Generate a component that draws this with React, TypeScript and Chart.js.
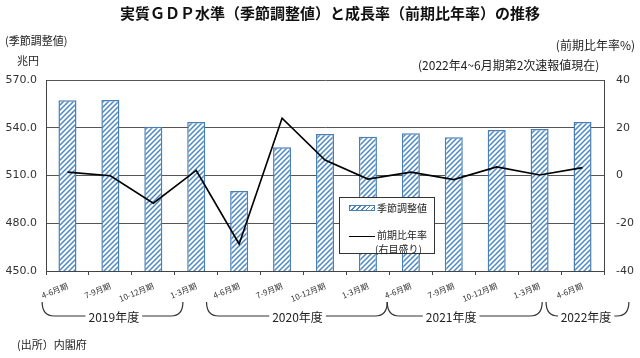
import React, { useEffect, useRef } from 'react';
import { Chart, registerables } from 'chart.js';

Chart.register(...registerables);

// ---- data ----
const quarters = [
  '4-6月期', '7-9月期', '10-12月期', '1-3月期',
  '4-6月期', '7-9月期', '10-12月期', '1-3月期',
  '4-6月期', '7-9月期', '10-12月期', '1-3月期',
  '4-6月期',
];
const gdpLevel = [557.3, 557.4, 540.7, 543.6, 500.3, 527.7, 536.1, 534.4, 536.5, 534.0, 538.6, 539.2, 543.6];
const growthRate = [1.4, -0.1, -11.6, 2.1, -28.7, 24.0, 6.5, -1.5, 1.4, -1.7, 3.6, 0.2, 3.3];

const leftMin = 450;
const leftMax = 570;
const leftStep = 30;
const rightMin = -40;
const rightMax = 40;
const rightStep = 20;

const fiscalYears = ['2019年度', '2020年度', '2021年度', '2022年度'];
const fyStart = [-0.59, 3.24, 7.45, 11.15];
const fyEnd = [2.69, 7.45, 11.06, 13.08];
const fyLabelAt = [1.08, 5.36, 8.94, 12.08];

const JP = '"Noto Sans CJK JP", "Noto Sans", sans-serif';
const NUM = '"DejaVu Sans", Verdana, sans-serif';
const BAR_BORDER = '#4a7fb3';
const HATCH = '#4a88c6';

function makeHatch(ctx: CanvasRenderingContext2D): CanvasPattern | string {
  const c = document.createElement('canvas');
  c.width = 5;
  c.height = 5;
  const g = c.getContext('2d');
  if (!g) return '#cfe0f0';
  g.fillStyle = '#ffffff';
  g.fillRect(0, 0, 5, 5);
  g.strokeStyle = HATCH;
  g.lineWidth = 1.5;
  g.beginPath();
  g.moveTo(-1, 6); g.lineTo(6, -1);
  g.moveTo(-1, 1); g.lineTo(1, -1);
  g.moveTo(4, 6); g.lineTo(6, 4);
  g.stroke();
  return ctx.createPattern(c, 'repeat') || '#cfe0f0';
}

const bracketPlugin = {
  id: 'fyBrackets',
  afterDraw(chart: any) {
    const ctx: CanvasRenderingContext2D = chart.ctx;
    const xs = chart.scales.x;
    const top = 302;
    const bottom = 316;
    const r = 12;
    ctx.save();
    ctx.strokeStyle = '#333';
    ctx.lineWidth = 1.2;
    ctx.fillStyle = '#222';
    ctx.font = `12px ${JP}`;
    ctx.textAlign = 'center';
    ctx.textBaseline = 'middle';
    fiscalYears.forEach((label, i) => {
      const x0 = xs.getPixelForValue(fyStart[i]);
      const x1 = xs.getPixelForValue(fyEnd[i]);
      const xc = xs.getPixelForValue(fyLabelAt[i]);
      const w = ctx.measureText(label).width;
      const tl = xc - w / 2 - 3;
      const tr = xc + w / 2 + 3;
      ctx.beginPath();
      ctx.moveTo(x0, top);
      ctx.quadraticCurveTo(x0, bottom, x0 + r, bottom);
      if (tl > x0 + r) ctx.lineTo(tl, bottom);
      ctx.stroke();
      ctx.beginPath();
      ctx.moveTo(Math.min(tr, x1 - r), bottom);
      ctx.lineTo(x1 - r, bottom);
      ctx.quadraticCurveTo(x1, bottom, x1, top);
      ctx.stroke();
      ctx.fillText(label, xc, bottom + 1);
    });
    ctx.restore();
  },
};

export default function App() {
  const canvasRef = useRef<HTMLCanvasElement | null>(null);

  useEffect(() => {
    const canvas = canvasRef.current;
    if (!canvas) return;
    const ctx = canvas.getContext('2d');
    if (!ctx) return;
    const hatch = makeHatch(ctx);

    const chart = new Chart(ctx, {
      type: 'bar',
      data: {
        labels: quarters,
        datasets: [
          {
            type: 'line',
            label: '前期比年率',
            data: growthRate,
            yAxisID: 'y1',
            borderColor: '#000',
            borderWidth: 1.6,
            pointRadius: 0,
            tension: 0,
            order: 0,
          } as any,
          {
            type: 'bar',
            label: '季節調整値',
            data: gdpLevel,
            yAxisID: 'y',
            backgroundColor: hatch as any,
            borderColor: BAR_BORDER,
            borderWidth: 1.5,
            barPercentage: 0.42,
            categoryPercentage: 1,
            order: 1,
          },
        ],
      },
      options: {
        responsive: false,
        animation: false,
        layout: { padding: { top: 80, left: 0, right: 0, bottom: 0 } },
        plugins: {
          legend: { display: false },
          tooltip: { enabled: false },
          title: { display: false },
        },
        scales: {
          x: {
            offset: true,
            grid: {
              display: true,
              drawOnChartArea: false,
              offset: true,
              tickLength: 4,
              color: '#444',
            },
            border: { display: true, color: '#444', width: 1 },
            ticks: {
              autoSkip: false,
              minRotation: 22,
              maxRotation: 22,
              padding: 6,
              color: '#333',
              font: { family: JP, size: 8 },
            },
            afterFit(scale: any) {
              scale.height = 87;
            },
          },
          y: {
            position: 'left',
            min: leftMin,
            max: leftMax,
            ticks: {
              stepSize: leftStep,
              padding: 9,
              color: '#333',
              font: { family: NUM, size: 11 },
              callback: (v: any) => Number(v).toFixed(1),
            },
            grid: { color: '#555', drawTicks: false, lineWidth: 1 },
            border: { display: true, color: '#444', width: 1 },
            afterFit(scale: any) {
              scale.width = 46;
            },
          },
          y1: {
            position: 'right',
            min: rightMin,
            max: rightMax,
            ticks: {
              stepSize: rightStep,
              padding: 12,
              color: '#333',
              font: { family: NUM, size: 11 },
            },
            grid: { drawOnChartArea: false, drawTicks: false },
            border: { display: true, color: '#444', width: 1 },
            afterFit(scale: any) {
              scale.width = 36;
            },
          },
        },
      },
      plugins: [bracketPlugin],
    });
    return () => chart.destroy();
  }, []);

  const txt = (style: React.CSSProperties): React.CSSProperties => ({
    position: 'absolute',
    whiteSpace: 'nowrap',
    fontFamily: JP,
    color: '#222',
    lineHeight: 1,
    ...style,
  });

  return (
    <div style={{ position: 'absolute', left: 0, top: 0, width: 640, height: 358, background: '#fff', overflow: 'hidden' }}>
      <canvas ref={canvasRef} width={640} height={358} style={{ position: 'absolute', left: 0, top: 0 }} />
      <div style={txt({ left: 120, top: 5, fontSize: 15, fontWeight: 'bold', color: '#111' })}>
        実質ＧＤＰ水準（季節調整値）と成長率（前期比年率）の推移
      </div>
      <div style={txt({ left: 5, top: 35, fontSize: 11 })}>(季節調整値)</div>
      <div style={txt({ left: 17, top: 55, fontSize: 11 })}>兆円</div>
      <div style={txt({ right: 5, top: 39, fontSize: 12 })}>(前期比年率%)</div>
      <div style={txt({ left: 418, top: 59, fontSize: 12 })}>(2022年4~6月期第2次速報値現在)</div>
      <div style={txt({ left: 17, top: 339, fontSize: 11 })}>(出所）内閣府</div>
      <div
        style={{
          position: 'absolute',
          left: 339,
          top: 197,
          width: 96,
          height: 57,
          border: '1px solid #333',
          background: '#fff',
          boxSizing: 'border-box',
        }}
      >
        <div
          style={{
            position: 'absolute',
            left: 9,
            top: 7,
            width: 26,
            height: 6,
            boxSizing: 'border-box',
            border: `1px solid ${BAR_BORDER}`,
            background: `repeating-linear-gradient(135deg, ${HATCH} 0px, ${HATCH} 1.2px, #fff 1.2px, #fff 3.4px)`,
          }}
        />
        <div style={txt({ left: 37, top: 5, fontSize: 10 })}>季節調整値</div>
        <div style={{ position: 'absolute', left: 9, top: 38, width: 26, height: 0, borderTop: '1.5px solid #000' }} />
        <div style={txt({ left: 37, top: 32, fontSize: 10 })}>前期比年率</div>
        <div style={txt({ left: 35, top: 46, fontSize: 10 })}>(右目盛り)</div>
      </div>
    </div>
  );
}
